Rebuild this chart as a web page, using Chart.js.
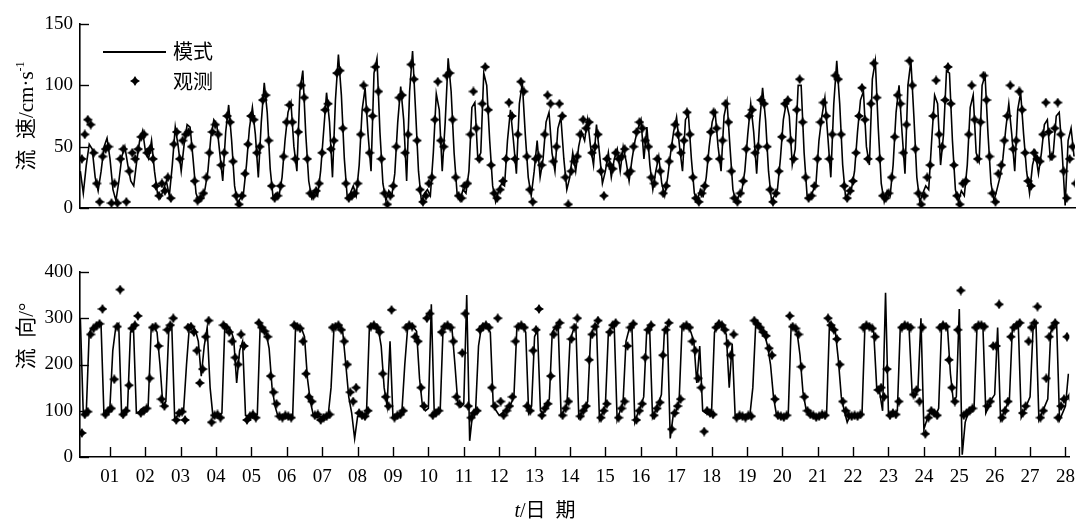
<!DOCTYPE html>
<html><head><meta charset="utf-8">
<script src="https://cdn.jsdelivr.net/npm/chart.js@4.4.1/dist/chart.umd.min.js"></script>
<style>
html,body{margin:0;padding:0;background:#fff;}
#wrap{position:relative;width:1084px;height:520px;overflow:hidden;font-family:"Liberation Serif","Noto Sans CJK SC",serif;color:#000;}
#wrap canvas.ch{position:absolute;left:0;}
.t{position:absolute;white-space:nowrap;font-size:20px;line-height:1;}
.rot{transform:translate(-50%,-50%) rotate(-90deg);font-size:21px;}
.cjk{font-family:"Noto Sans CJK SC",sans-serif;}
sup{font-size:12px;vertical-align:9px;}
</style></head><body>
<div id="wrap">
<canvas class="ch" id="c1" width="1084" height="240" style="top:0;width:1084px;height:240px"></canvas>
<canvas class="ch" id="c2" width="1084" height="280" style="top:240px;width:1084px;height:280px"></canvas>
<div class="t rot" style="left:25px;top:116px;"><span class="cjk">流</span>&nbsp;&nbsp;<span class="cjk">速</span>/cm·s<sup>-1</sup></div>
<div class="t rot" style="left:25px;top:336px;"><span class="cjk">流</span>&nbsp;&nbsp;<span class="cjk">向</span>/°</div>
<div class="t" style="left:545px;top:509px;transform:translate(-50%,-50%);"><i>t</i>/<span class="cjk">日</span>&nbsp;&nbsp;<span class="cjk">期</span></div>
<div style="position:absolute;left:103px;top:51px;width:63px;height:1.6px;background:#000;"></div>
<div class="t cjk" style="left:173px;top:41px;">模式</div>
<canvas id="lm" width="10" height="10" style="position:absolute;left:130px;top:76px;"></canvas>
<div class="t cjk" style="left:173px;top:71px;">观测</div>
</div>
<script>
// ---- time base: samples every 2 h starting at hour 4 of day 0; observations offset by 1 h ----
const START_HOUR = 4, STEP_HOURS = 2, OBS_OFFSET_HOURS = 1;

const dayTicks = [1,2,3,4,5,6,7,8,9,10,11,12,13,14,15,16,17,18,19,20,21,22,23,24,25,26,27,28];
const dayLabels = ['01','02','03','04','05','06','07','08','09','10','11','12','13','14','15','16','17','18','19','20','21','22','23','24','25','26','27','28'];
const speedTicks = [0,50,100,150];
const dirTicks = [0,100,200,300,400];

// current speed (cm/s), model
const speedModel = [
 30,12,35,52,48,25,14,30,50,57,
 40,15,6,22,42,50,35,22,18,38,55,63,
 45,40,55,30,12,8,15,22,10,35,66,50,
 30,52,68,66,40,12,5,10,15,30,58,72,
 68,45,22,62,84,55,18,4,8,12,35,65,
 82,60,25,70,102,78,32,8,12,10,25,55,
 78,86,50,30,95,112,60,22,8,14,10,30,
 62,94,70,25,88,125,92,40,8,12,18,10,
 35,80,98,60,30,110,122,62,20,6,14,10,
 28,70,99,72,22,95,128,80,30,5,12,15,
 10,45,93,80,30,70,122,95,45,12,6,15,
 12,30,82,86,40,45,110,100,55,18,5,14,
 20,18,55,80,55,28,85,102,60,25,10,30,
 55,25,40,70,78,45,30,65,74,40,15,25,
 45,30,50,62,55,72,50,35,68,45,20,30,
 45,25,40,48,30,50,38,22,40,55,65,72,
 40,66,35,15,30,42,20,10,25,45,62,74,
 50,30,72,76,40,12,6,15,10,25,50,70,
 78,50,30,75,87,50,15,5,10,14,30,60,
 85,62,28,70,98,72,30,6,10,15,40,72,
 86,75,35,48,100,100,45,10,8,14,20,55,
 75,90,58,25,85,120,85,35,8,12,16,30,
 62,88,95,50,35,105,120,65,20,5,14,10,
 35,78,100,62,28,100,120,75,25,5,12,18,
 15,55,92,85,35,60,112,110,55,15,5,14,
 10,35,82,92,45,38,100,108,60,20,6,15,
 25,40,65,85,60,30,80,94,60,30,12,35,
 45,28,45,68,72,40,45,75,78,45,2,55,
 65,42
];
// current speed (cm/s), observed
const speedObs = [
 40,60,72,68,45,20,5,42,48,50,
 4,20,4,40,48,5,30,45,40,48,58,60,
 45,48,40,18,10,20,14,25,8,52,62,40,
 55,60,62,50,22,6,8,12,25,45,62,68,
 60,35,45,75,70,38,10,3,10,28,52,75,
 72,45,50,88,92,55,18,8,10,18,42,70,
 84,70,40,62,100,90,40,12,10,14,20,45,
 80,85,48,55,110,112,65,20,8,10,12,20,
 60,100,80,45,75,115,95,40,12,3,10,18,
 50,90,92,45,60,117,105,55,15,5,10,20,
 25,72,103,55,50,108,110,72,25,10,8,18,
 20,60,95,65,40,85,115,80,35,12,8,15,
 22,40,86,75,40,60,103,95,42,15,5,40,
 42,35,60,92,85,38,50,85,75,25,3,30,
 38,42,60,72,65,70,45,50,60,30,10,40,
 35,32,45,40,42,48,28,30,50,62,70,65,
 55,50,25,20,40,30,12,18,38,50,68,60,
 45,55,78,60,25,8,5,12,18,40,62,78,
 65,40,55,85,70,30,8,5,12,22,48,75,
 80,45,50,88,85,50,15,5,12,30,58,85,
 88,55,40,80,105,70,25,8,10,18,40,70,
 86,75,40,60,108,105,60,18,8,14,22,45,
 75,98,72,40,85,118,90,40,10,8,12,25,
 58,92,85,45,68,120,100,48,12,3,10,25,
 35,75,104,60,50,88,115,85,35,10,3,20,
 22,60,100,72,40,70,108,88,42,12,5,28,
 35,55,75,100,48,55,95,80,45,22,18,45,
 40,38,60,86,62,42,65,86,60,30,8,40,
 50,20
];
// current direction (deg), model
const dirModel = [
 300,92,95,268,280,284,288,290,92,100,
 104,230,280,288,90,96,105,270,282,95,98,105,
 100,110,275,282,270,200,110,120,275,285,80,90,
 95,100,200,285,283,275,250,175,240,280,150,85,
 88,90,95,288,282,275,255,160,230,250,90,88,
 90,88,92,290,278,268,235,150,110,88,86,88,
 85,88,90,288,282,278,260,170,120,90,85,88,
 86,90,88,150,280,285,282,268,200,130,95,40,
 88,90,86,92,280,285,282,278,240,150,110,250,
 85,90,92,96,200,282,285,280,272,170,110,100,
 105,330,92,95,100,282,285,282,278,200,115,108,
 115,350,35,95,100,240,282,285,280,270,110,100,
 90,95,100,108,115,130,280,285,282,270,95,110,
 260,275,100,95,110,125,270,280,285,90,100,115,
 250,272,285,85,95,105,120,260,278,285,80,95,
 110,265,280,285,80,100,118,250,275,285,75,95,
 110,130,270,282,85,100,115,135,270,282,40,90,
 100,120,280,284,282,270,250,160,240,100,95,92,
 95,270,285,288,280,265,150,245,90,88,85,90,
 88,90,150,290,285,275,265,240,200,130,92,88,
 86,88,90,285,280,270,220,140,105,90,88,86,
 88,90,88,92,290,280,270,210,130,100,75,90,
 88,86,88,90,282,285,280,270,150,140,100,355,
 90,92,95,100,282,285,282,275,140,130,150,300,
 60,80,95,100,90,105,282,285,280,180,120,130,
 320,5,75,95,100,105,280,285,285,95,110,125,
 135,280,80,95,110,125,280,285,288,85,100,115,
 130,275,290,80,95,110,125,270,285,290,80,95,
 110,180
];
// current direction (deg), observed
const dirObs = [
 52,92,98,265,278,284,288,320,92,100,
 105,168,282,362,92,100,155,278,285,305,95,100,
 105,170,280,282,240,125,110,275,285,300,80,95,
 98,80,280,282,270,230,160,190,260,295,75,90,
 92,85,285,280,270,250,215,200,265,240,80,88,
 92,85,290,280,272,260,175,140,115,88,85,90,
 88,85,285,282,278,250,180,130,120,90,92,80,
 85,88,92,280,282,285,275,250,200,140,120,150,
 95,90,88,100,282,285,280,270,180,130,110,318,
 85,90,92,100,280,285,282,260,250,150,110,300,
 310,90,95,100,270,282,285,280,250,130,115,225,
 310,110,85,95,100,275,282,285,280,150,110,300,
 120,90,100,110,130,250,282,285,280,110,100,230,
 275,320,90,105,115,175,265,280,290,90,105,120,
 255,280,300,88,100,110,210,265,282,295,85,100,
 115,270,285,290,85,105,120,240,280,288,80,100,
 115,215,275,285,90,105,118,220,275,290,60,95,
 110,125,282,285,280,250,230,170,150,55,100,95,
 92,280,288,285,275,245,220,265,85,90,88,85,
 90,88,295,288,280,270,262,235,220,125,90,88,
 86,90,305,282,278,265,195,130,100,92,90,86,
 88,92,90,300,285,275,255,200,120,100,90,88,
 90,88,92,280,285,282,278,260,145,150,130,190,
 90,95,92,120,280,285,283,280,135,145,120,280,
 50,85,100,95,90,280,285,282,210,150,120,275,
 360,90,95,100,105,280,285,285,282,110,120,240,
 240,330,85,100,120,260,280,285,290,95,110,250,
 280,290,325,85,100,170,260,280,290,85,110,125,
 260,130
];

const X_MIN = 0.157, X_MAX = 28.11;

function toPoints(values, offsetH){
  return values.map((v,i)=>({x:(START_HOUR+offsetH+STEP_HOURS*i)/24, y:v}));
}
function makeStar(){
  const c=document.createElement('canvas'); c.width=10; c.height=10;
  const g=c.getContext('2d'); g.fillStyle='#000'; g.beginPath();
  for(let k=0;k<8;k++){
    const ang=-Math.PI/2+k*Math.PI/4, rad=(k%2===0)?5:2.7;
    const px=5+rad*Math.cos(ang), py=5+rad*Math.sin(ang);
    if(k===0) g.moveTo(px,py); else g.lineTo(px,py);
  }
  g.closePath(); g.fill(); return c;
}
const star = makeStar();
document.getElementById('lm').getContext('2d').drawImage(star,0,0);

const insideTicks = {
  id:'insideTicks',
  afterDraw(chart, args, opts){
    const {ctx, chartArea:a, scales} = chart;
    ctx.save(); ctx.strokeStyle='#000'; ctx.lineWidth=1.4;
    const y=scales.y;
    y.ticks.forEach(t=>{
      const p=Math.round(y.getPixelForValue(t.value))+0.5;
      ctx.beginPath(); ctx.moveTo(a.left,p); ctx.lineTo(a.left+9,p); ctx.stroke();
    });
    if(opts && opts.xTicks){
      const x=scales.x;
      x.ticks.forEach(t=>{
        const p=Math.round(x.getPixelForValue(t.value))+0.5;
        ctx.beginPath(); ctx.moveTo(p,a.bottom); ctx.lineTo(p,a.bottom-10); ctx.stroke();
      });
    }
    ctx.restore();
  }
};

const tickFont = {family:'"Liberation Serif", serif', size:19};

function makeChart(id, model, obs, yTicks, yMax, showX, pad){
  return new Chart(document.getElementById(id), {
    type:'line',
    data:{datasets:[
      {label:'模式', data:toPoints(model,0), borderColor:'#000', borderWidth:1.6, pointRadius:0, tension:0, fill:false},
      {label:'观测', data:toPoints(obs,OBS_OFFSET_HOURS), showLine:false, pointStyle:star, pointRadius:5, borderColor:'#000', backgroundColor:'#000'}
    ]},
    options:{
      responsive:false, animation:false, events:[],
      layout:{padding:pad},
      plugins:{legend:{display:false}, tooltip:{enabled:false}, insideTicks:{xTicks:showX}},
      scales:{
        x:{type:'linear', min:X_MIN, max:X_MAX,
           grid:{display:false, drawTicks:false},
           border:{display:true, color:'#000', width:1.6},
           afterBuildTicks:s=>{s.ticks=dayTicks.map(v=>({value:v}));},
           afterFit:s=>{s.height = showX?30:0;},
           ticks:{display:showX, autoSkip:false, maxRotation:0, padding:9, color:'#000', font:tickFont,
                  callback:(v)=>dayLabels[dayTicks.indexOf(v)]}},
        y:{min:0, max:yMax,
           grid:{display:false, drawTicks:false},
           border:{display:true, color:'#000', width:1.6},
           afterBuildTicks:s=>{s.ticks=yTicks.map(v=>({value:v}));},
           afterFit:s=>{s.width=80;},
           ticks:{padding:7, color:'#000', font:tickFont}}
      }
    },
    plugins:[insideTicks]
  });
}
makeChart('c1', speedModel, speedObs, speedTicks, 150, false, {top:24,bottom:32,left:0,right:9});
makeChart('c2', dirModel, dirObs, dirTicks, 400, true, {top:32,bottom:33,left:0,right:9});
</script>
</body></html>
